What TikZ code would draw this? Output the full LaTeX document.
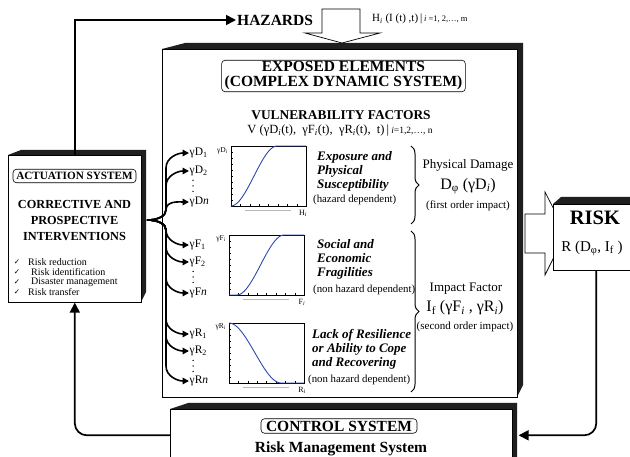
\documentclass[tikz,border=0pt]{standalone}
\usepackage{fontspec}
\setmainfont{Liberation Serif}
\newfontfamily\symfont{DejaVu Sans}
\usetikzlibrary{arrows.meta,decorations.pathreplacing,calc}
\definecolor{curveblue}{RGB}{45,75,175}
\newcommand{\fsz}[2]{\fontsize{#1}{#2}\selectfont}
% axes of a small response plot: #1 = left x, #2 = top y
\newcommand{\plotaxes}[2]{%
  \draw[line width=0.8pt] (#1,#2) rectangle ++(75,60);
  \foreach \k in {1,...,9} \draw[line width=0.35pt] (#1,#2+6*\k) -- ++(1.8,0);
  \foreach \k in {1,...,7} \draw[line width=0.35pt] (#1+9.4*\k,#2+60) -- ++(0,-1.8);
  \draw[gray!55, line width=0.6pt] (#1+14,#2+64.5) -- ++(46,0);
}
% three stacked dots between two factor labels: #1 = x, #2 = middle y
\newcommand{\stackdots}[2]{%
  \foreach \k in {-1,0,1} \fill (#1,#2+5.5*\k) circle (0.75pt);
}
\begin{document}
\begin{tikzpicture}[x=1pt,y=-1pt,
  shadowfill/.style={fill=black!88},
  face/.style={draw=black, line width=0.6pt, fill=white, inner sep=0pt, anchor=north west},
  conn/.style={line width=1.7pt, -{Triangle[length=10pt,width=10pt]}},
  branch/.style={line width=1.6pt, -{Triangle[length=6.5pt,width=6.5pt]}},
  blockarrow/.style={draw=black, line width=0.7pt, fill=white},
  tag/.style={draw=black, line width=0.6pt, rounded corners=3.5pt},
  gam/.style={anchor=west, inner sep=0.5pt, font=\fsz{11.5}{12}},
  grp/.style={anchor=west, inner sep=0pt, align=left, font=\fsz{13}{14}\bfseries\itshape},
  dep/.style={anchor=west, inner sep=0pt, font=\fsz{10.8}{11}},
  axlab/.style={inner sep=0pt, font=\fsz{8}{8}},
  ylab/.style={anchor=east, inner sep=0pt, font=\fsz{7.5}{8}},
  curve/.style={draw=curveblue, line width=0.9pt},
  brc/.style={decorate, decoration={brace, amplitude=8pt}, line width=1pt},
  item/.style={anchor=west, inner sep=0pt, font=\fsz{10}{10}},
  chk/.style={inner sep=0pt, font=\symfont\fsz{7.5}{8}},
]
\useasboundingbox (0,0) rectangle (630,457);
\clip (0,0) rectangle (630,457);
\fill[white] (0,0) rectangle (630,457);

% ---- exposed elements (main box) ----
\fill[shadowfill] (162,49) -- (185,43) -- (523,43) -- (523,385) -- (517,397) -- cycle;
\node[face, minimum width=355pt, minimum height=348pt] (main) at (162,49) {};

% ---- actuation system ----
\fill[shadowfill] (8,155) -- (21,150) -- (146,150) -- (146,292) -- (141,302) -- cycle;
\node[face, minimum width=133pt, minimum height=147pt] (act) at (8,155) {};

% ---- control system ----
\fill[shadowfill] (170,409) -- (188,403) -- (517,403) -- (517,465) -- (512,465) -- cycle;
\node[face, minimum width=342pt, minimum height=52pt] (ctrl) at (170,409) {};

% ---- block arrow towards risk, then risk box ----
\draw[blockarrow] (525,214) -- (545,214) -- (545,192) -- (566,233) -- (545,275)
  -- (545,253) -- (525,253) -- cycle;
\fill[shadowfill] (553,204) -- (561,197) -- (640,197) -- (640,270) -- (553,270) -- cycle;
\node[face, minimum width=86pt, minimum height=66pt] (risk) at (553,204) {};

% ---- hazards input ----
\draw[blockarrow] (322,9) -- (360,9) -- (360,33) -- (380,33) -- (342,43) -- (305,33)
  -- (322,33) -- cycle;
\node[anchor=west, inner sep=1pt, font=\fsz{15.5}{16}\bfseries] (haz) at (236,20) {HAZARDS};
\node[anchor=west, inner sep=0pt, font=\fsz{11}{11}] (hline) at (372,19)
  {H\textsubscript{\textit{i}} (I (t) ,t)\,|\,{\fsz{8.5}{9}\textit{i} =1, 2,…, m}};

% ---- titles in the main box ----
\node[tag, font=\fsz{15.5}{15}\bfseries, align=center, inner xsep=3pt, inner ysep=1.5pt]
  (expo) at (343.5,76) {EXPOSED ELEMENTS\\(COMPLEX DYNAMIC SYSTEM)};
\node[inner sep=0pt, font=\fsz{13.4}{14}\bfseries] (vf) at (341,115) {VULNERABILITY FACTORS};
\node[inner sep=0pt, font=\fsz{12.5}{13}] (vline) at (340,131)
  {V (γD\textsubscript{\textit{i}}(t),\ \ γF\textsubscript{\textit{i}}(t),\ \ γR\textsubscript{\textit{i}}(t),\ \ t)\,|\,{\fsz{9.5}{10}\textit{i}=1,2,…, n}};

% ---- response plots ----
\plotaxes{231}{146}
\draw[curve] plot[domain=0:1, samples=40] ({231+46*\x},{206-60*(3*\x*\x-2*\x*\x*\x)}) -- (306,146);
\node[ylab] (dy) at (228,151) {γD\textsubscript{\textit{i}}};
\node[axlab] (dx) at (303,213) {H\textsubscript{\textit{i}}};

\plotaxes{229}{235}
\draw[curve] (229,295) -- (237,295) -- plot[domain=0:1, samples=40] ({237+47*\x},{295-60*(3*\x*\x-2*\x*\x*\x)}) -- (304,235);
\node[ylab] (fy) at (226,239) {γF\textsubscript{\textit{i}}};
\node[axlab] (fx) at (302,302) {F\textsubscript{\textit{i}}};

\plotaxes{229}{323}
\draw[curve] plot[domain=0:1, samples=40] ({229+52*\x},{323+60*(3*\x*\x-2*\x*\x*\x)}) -- (304,383);
\node[ylab] (ry) at (226,327) {γR\textsubscript{\textit{i}}};
\node[axlab] (rx) at (302,390) {R\textsubscript{\textit{i}}};

% ---- factor labels ----
\node[gam] (d1) at (189,153) {γD\textsubscript{1}};
\node[gam] (d2) at (189,171) {γD\textsubscript{2}};
\stackdots{193}{186}
\node[gam] (dn) at (189,202) {γD\textit{n}};
\node[gam] (f1) at (189,245) {γF\textsubscript{1}};
\node[gam] (f2) at (189,262) {γF\textsubscript{2}};
\stackdots{193}{277}
\node[gam] (fn) at (189,293) {γF\textit{n}};
\node[gam] (r1) at (189,334) {γR\textsubscript{1}};
\node[gam] (r2) at (189,351) {γR\textsubscript{2}};
\stackdots{193}{366}
\node[gam] (rn) at (189,381) {γR\textit{n}};

% ---- branching from the actuation system to every factor ----
\coordinate (fork) at (147,220);
\draw[branch] (fork) .. controls (158,220) and (166,216) .. (166,210) -- (166,168) to[out=90,in=180] (d1.west);
\draw[branch] (fork) .. controls (158,220) and (166,216) .. (166,210) -- (166,186) to[out=90,in=180] (d2.west);
\draw[branch] (fork) .. controls (158,220) and (166,216) .. (166,210) to[out=90,in=180] (dn.west);
\draw[branch] (fork) .. controls (158,220) and (166,224) .. (166,230) to[out=-90,in=180] (f1.west);
\draw[branch] (fork) .. controls (158,220) and (166,224) .. (166,230) -- (166,247) to[out=-90,in=180] (f2.west);
\draw[branch] (fork) .. controls (158,220) and (166,224) .. (166,230) -- (166,278) to[out=-90,in=180] (fn.west);
\draw[branch] (fork) .. controls (158,220) and (166,224) .. (166,230) -- (166,319) to[out=-90,in=180] (r1.west);
\draw[branch] (fork) .. controls (158,220) and (166,224) .. (166,230) -- (166,336) to[out=-90,in=180] (r2.west);
\draw[branch] (fork) .. controls (158,220) and (166,224) .. (166,230) -- (166,366) to[out=-90,in=180] (rn.west);

% ---- factor groups ----
\node[grp] (dtxt) at (317,171) {Exposure and\\Physical\\Susceptibility};
\node[dep] (ddep) at (313,200) {(hazard dependent)};
\node[grp] (ftxt) at (317,259) {Social and\\Economic\\Fragilities};
\node[dep] (fdep) at (313,290) {(non hazard dependent)};
\node[grp] (rtxt) at (312,349) {Lack of Resilience\\or Ability to Cope\\and Recovering};
\node[dep] (rdep) at (308,380) {(non hazard dependent)};

\draw[brc] (411,146) -- (411,224);
\draw[brc] (411,231) -- (411,392);

\node[inner sep=0pt, font=\fsz{13}{13}] (pd) at (468,165) {Physical Damage};
\node[inner sep=0pt, font=\fsz{16}{16}] (dphi) at (468,186) {D\textsubscript{φ} (γD\textsubscript{\textit{i}})};
\node[inner sep=0pt, font=\fsz{11}{12}] (foi) at (468,206) {(first order impact)};
\node[inner sep=0pt, font=\fsz{13}{13}] (ifac) at (466,289) {Impact Factor};
\node[inner sep=0pt, font=\fsz{16}{16}] (iform) at (465,308) {I\textsubscript{f} (γF\textsubscript{\textit{i}} , γR\textsubscript{\textit{i}})};
\node[inner sep=0pt, font=\fsz{11}{12}] (soi) at (465,327) {(second order impact)};

% ---- risk ----
\node[inner sep=0pt, font=\fsz{20.5}{21}\bfseries] (risklbl) at (595,218) {RISK};
\node[inner sep=0pt, font=\fsz{15}{15}] (rform) at (592,248) {R (D\textsubscript{φ}, I\textsubscript{f} )};

% ---- actuation texts ----
\node[tag, font=\fsz{11.2}{12}\bfseries, inner xsep=2pt, inner ysep=3pt, minimum width=123pt]
  (actlbl) at (74.5,176) {ACTUATION SYSTEM};
\node[inner sep=0pt, font=\fsz{12.3}{16}\bfseries, align=center] (ci) at (74.5,221)
  {CORRECTIVE AND\\PROSPECTIVE\\INTERVENTIONS};
\node[chk] (c1) at (17,262) {✓};
\node[item] (i1) at (28,262) {Risk reduction};
\node[chk] (c2) at (17,272) {✓};
\node[item] (i2) at (31,272) {Risk identification};
\node[chk] (c3) at (17,282) {✓};
\node[item] (i3) at (31,282) {Disaster management};
\node[chk] (c4) at (17,292) {✓};
\node[item] (i4) at (28,292) {Risk transfer};

% ---- control texts ----
\node[tag, font=\fsz{15.5}{16}\bfseries, inner xsep=5pt, inner ysep=2pt] (ctrllbl) at (339,426) {CONTROL SYSTEM};
\node[inner sep=0pt, font=\fsz{15.5}{16}\bfseries] (rms) at (341,449) {Risk Management System};

% ---- feedback loop ----
\draw[conn] (act.north) |- (haz.west);
\draw[conn, rounded corners=12pt] (ctrl.west) -| (act.south);
\draw[conn, rounded corners=12pt] (risk.south) |- ([xshift=6pt]ctrl.east);
\end{tikzpicture}
\end{document}
